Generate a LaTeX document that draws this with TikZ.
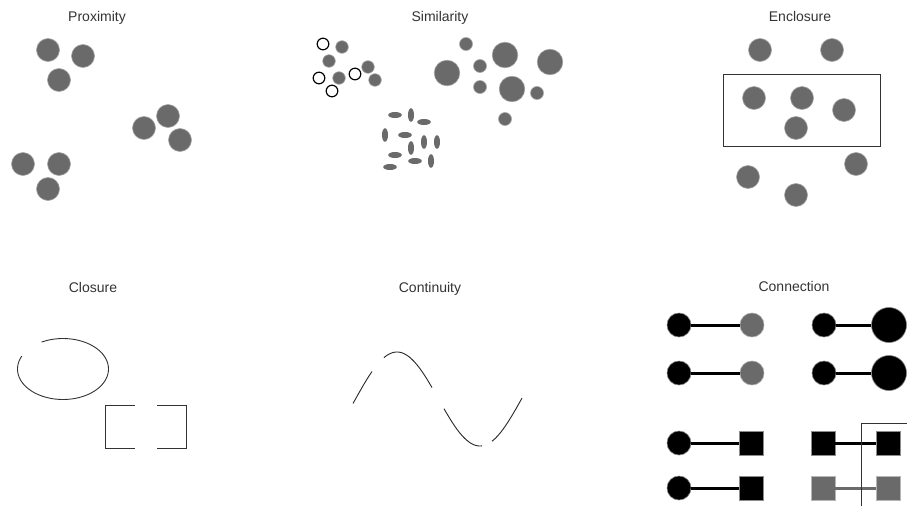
\documentclass[tikz,border=0pt]{standalone}
\usepackage{fontspec}
\setmainfont{Liberation Sans}
\usepackage{xcolor}
\usetikzlibrary{calc}

\definecolor{dotgray}{HTML}{6A6A6A}
\definecolor{titlegray}{HTML}{333333}

\tikzset{
  title/.style={text=titlegray,font=\fontsize{14}{16}\selectfont,inner sep=0pt,anchor=base},
  dot/.style={fill=dotgray,draw=dotgray!60!white,line width=0.6pt},
  ring/.style={draw=black,line width=1.2pt,fill=white},
  ball/.style={circle,fill=black,draw=black!50,line width=0.6pt,inner sep=0pt,minimum size=24pt},
  bigball/.style={ball,minimum size=35pt},
  greyball/.style={ball,fill=dotgray,draw=dotgray!60!white},
  box/.style={rectangle,fill=black,draw=black!45,line width=0.8pt,inner sep=0pt,minimum size=24pt},
  greybox/.style={box,fill=dotgray,draw=dotgray!50!white},
  link/.style={line width=3pt},
}

\begin{document}
\begin{tikzpicture}[x=1pt,y=-1pt]
  \useasboundingbox (0,0) rectangle (907,506);

  % headings
  \node[title] (tprox) at (97,21) {Proximity};
  \node[title] (tsim) at (440,21) {Similarity};
  \node[title] (tencl) at (800,21) {Enclosure};
  \node[title] (tclos) at (93,292) {Closure};
  \node[title] (tcont) at (430,292) {Continuity};
  \node[title] (tconn) at (794,291) {Connection};

  % proximity: three groups of three
  \foreach \x/\y in {48/50,83/56,59/80, 144/128,168/116,180/140, 23/164,59/164,48/189}
    \draw[dot] (\x,\y) circle[radius=11.5];

  % similarity: open vs filled small dots
  \foreach \x/\y in {323/44,319/78,332/91,355/74}
    \draw[ring] (\x,\y) circle[radius=5.8];
  \foreach \x/\y in {342/47,329/61,339/78,368/67,375/80}
    \draw[dot] (\x,\y) circle[radius=6.3];
  % big and small dots
  \foreach \x/\y in {447/73,505/55,550/62,512/89}
    \draw[dot] (\x,\y) circle[radius=12.8];
  \foreach \x/\y in {466/44,480/66,480/87,537/93,505/119}
    \draw[dot] (\x,\y) circle[radius=6.5];
  % lying and standing ellipses
  \foreach \x/\y in {395/115,424/122,405/135,395/155,415/161,390/167}
    \fill[dotgray] (\x,\y) ellipse[x radius=6.8,y radius=3];
  \foreach \x/\y in {411/115,385/135,424/142,437/142,411/148,431/161}
    \fill[dotgray] (\x,\y) ellipse[x radius=3,y radius=6.8];

  % enclosure
  \draw[titlegray,line width=1pt] (723,74) rectangle (880,146);
  \foreach \x/\y in {760/50,832/50, 754/98,802/98,844/110,796/128, 748/177,856/164,796/195}
    \draw[dot] (\x,\y) circle[radius=11.5];

  % closure: broken ellipse and bracket pair
  \draw[titlegray,line width=0.9pt] plot[domain=242:565,samples=90,smooth]
    ({63+45.5*cos(\x)},{369+30.5*sin(\x)});
  \draw[titlegray,line width=0.9pt] (135,405) -- (105,405) -- (105,448) -- (135,448);
  \draw[titlegray,line width=0.9pt] (157,405) -- (186,405) -- (186,448) -- (157,448);

  % continuity: sine wave with gaps
  \pgfmathsetmacro{\Amp}{47}
  \pgfmathsetmacro{\Half}{83}
  \foreach \a/\b in {353/372,384/432,444/482,492/522}
    \draw[black!85,line width=0.9pt] plot[domain=\a:\b,samples=30,smooth]
      (\x,{399-\Amp*sin((\x-355.5)/\Half*180)});

  % connection
  \node[ball] (a1) at (679,325) {};
  \node[greyball] (b1) at (752,325) {};
  \node[ball] (a2) at (679,373) {};
  \node[greyball] (b2) at (752,373) {};
  \node[ball] (c1) at (824,325) {};
  \node[bigball] (d1) at (889,325) {};
  \node[ball] (c2) at (824,373) {};
  \node[bigball] (d2) at (889,373) {};
  \node[ball] (a3) at (679,443) {};
  \node[box] (b3) at (751,443) {};
  \node[ball] (a4) at (679,488) {};
  \node[box] (b4) at (751,488) {};
  \node[box] (c3) at (823,443) {};
  \node[box] (d3) at (888,443) {};
  \node[greybox] (c4) at (823,488) {};
  \node[greybox] (d4) at (888,488) {};
  \foreach \s/\t in {a1/b1,a2/b2,c1/d1,c2/d2,a3/b3,a4/b4,c3/d3}
    \draw[link] (\s) -- (\t);
  \draw[link,dotgray] (c4) -- (d4);
  % frame around the right column
  \coordinate (fcorner) at (861,423);
  \draw[titlegray,line width=1pt] (861,506) -- (fcorner) -- (907,423);
\end{tikzpicture}
\end{document}
